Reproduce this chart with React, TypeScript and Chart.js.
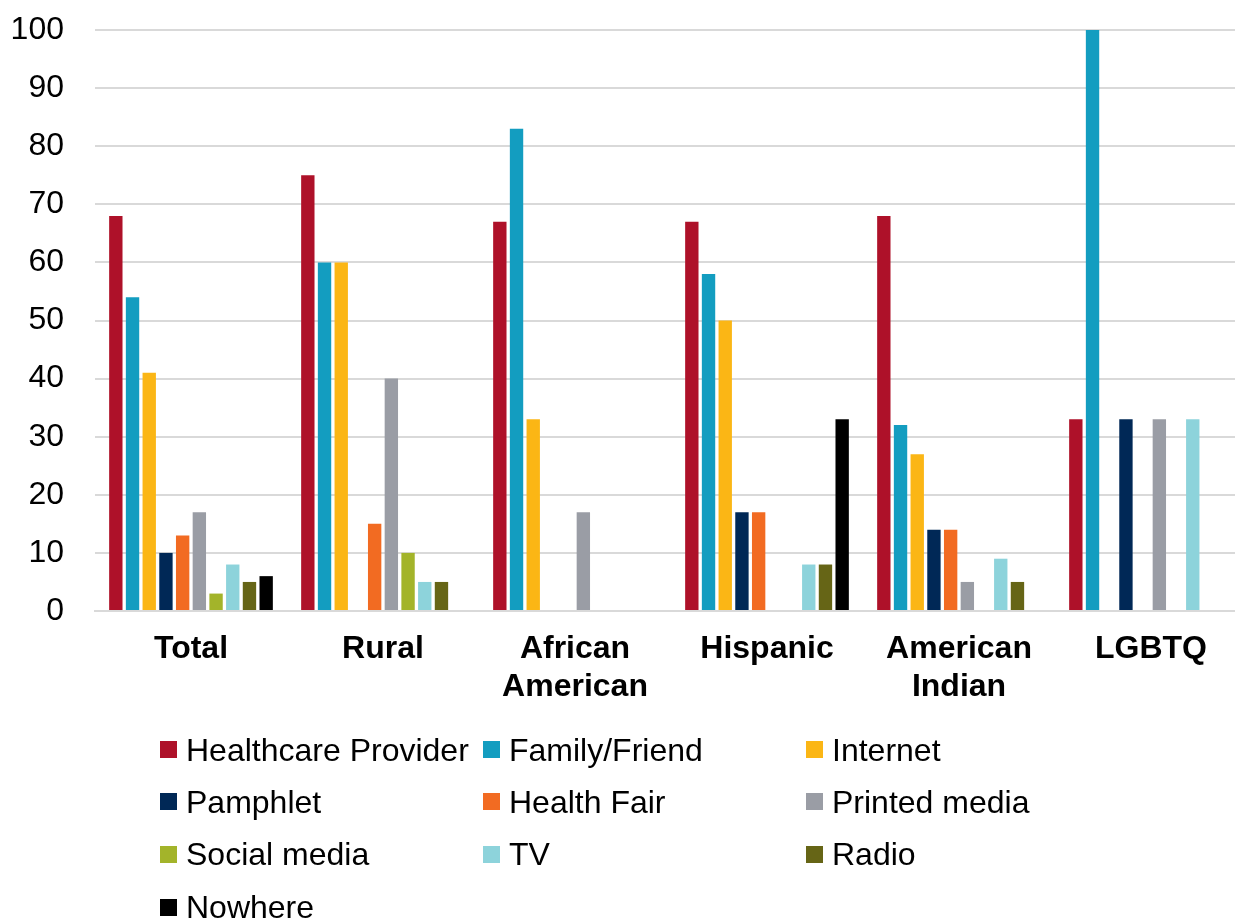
import React, { useEffect, useRef } from "react";
import { Chart, registerables } from "chart.js";

Chart.register(...registerables);

const categories: (string | string[])[] = [
  "Total",
  "Rural",
  ["African", "American"],
  "Hispanic",
  ["American", "Indian"],
  "LGBTQ",
];

const seriesNames = [
  "Healthcare Provider",
  "Family/Friend",
  "Internet",
  "Pamphlet",
  "Health Fair",
  "Printed media",
  "Social media",
  "TV",
  "Radio",
  "Nowhere",
];

const seriesColors = [
  "#AE1129",
  "#139DC0",
  "#FBB615",
  "#002856",
  "#F26B22",
  "#9A9DA5",
  "#A3B42A",
  "#8DD3DB",
  "#666516",
  "#000000",
];

const healthcareProvider = [68, 75, 67, 67, 68, 33];
const familyFriend = [54, 60, 83, 58, 32, 100];
const internet = [41, 60, 33, 50, 27, 0];
const pamphlet = [10, 0, 0, 17, 14, 33];
const healthFair = [13, 15, 0, 17, 14, 0];
const printedMedia = [17, 40, 17, 0, 5, 33];
const socialMedia = [3, 10, 0, 0, 0, 0];
const tv = [8, 5, 0, 8, 9, 33];
const radio = [5, 5, 0, 8, 5, 0];
const nowhere = [6, 0, 0, 33, 0, 0];

const seriesValues = [
  healthcareProvider,
  familyFriend,
  internet,
  pamphlet,
  healthFair,
  printedMedia,
  socialMedia,
  tv,
  radio,
  nowhere,
];

const yTicks = [0, 10, 20, 30, 40, 50, 60, 70, 80, 90, 100];

const FONT = "'Liberation Sans', Arial, Helvetica, sans-serif";

const legendCols = [160, 483, 806];
const legendRows = [749.5, 801.5, 854, 907];

export default function App() {
  const canvasRef = useRef<HTMLCanvasElement | null>(null);

  useEffect(() => {
    if (!canvasRef.current) return;
    const chart = new Chart(canvasRef.current, {
      type: "bar",
      data: {
        labels: categories,
        datasets: seriesNames.map((name, i) => ({
          label: name,
          data: seriesValues[i],
          backgroundColor: seriesColors[i],
          borderWidth: 0,
          categoryPercentage: 0.87,
          barPercentage: 0.8,
        })),
      },
      options: {
        responsive: false,
        animation: false,
        layout: { padding: { top: 30, left: 0, right: 0, bottom: 918 - 611 - 110 } },
        plugins: {
          legend: { display: false },
          tooltip: { enabled: false },
        },
        scales: {
          x: {
            grid: { display: false, drawTicks: false },
            border: { display: true, color: "#d9d9d9", width: 2 },
            ticks: {
              color: "#000",
              padding: 19,
              maxRotation: 0,
              autoSkip: false,
              font: { family: FONT, size: 32, weight: "bold", lineHeight: 1.2 },
            },
            afterFit: (scale: any) => {
              scale.height = 110;
            },
          },
          y: {
            min: 0,
            max: 100,
            afterBuildTicks: (scale: any) => {
              scale.ticks = yTicks.map((v) => ({ value: v }));
            },
            grid: { color: "#d9d9d9", lineWidth: 2, drawTicks: false },
            border: { display: false },
            ticks: {
              color: "#000",
              padding: 31,
              font: { family: FONT, size: 32 },
            },
            afterFit: (scale: any) => {
              scale.width = 95;
              scale.paddingTop = 0;
              scale.paddingBottom = 0;
            },
          },
        },
      },
    });
    return () => chart.destroy();
  }, []);

  return (
    <div
      style={{
        position: "absolute",
        left: 0,
        top: 0,
        width: 1235,
        height: 918,
        overflow: "hidden",
        background: "#fff",
      }}
    >
      <canvas
        ref={canvasRef}
        width={1247}
        height={918}
        style={{ position: "absolute", left: 0, top: 0, width: 1247, height: 918 }}
      />
      {seriesNames.map((name, i) => {
        const col = i % 3;
        const row = Math.floor(i / 3);
        return (
          <div
            key={name}
            style={{
              position: "absolute",
              left: legendCols[col],
              top: legendRows[row] - 20,
              height: 40,
              display: "flex",
              alignItems: "center",
              whiteSpace: "nowrap",
              fontFamily: FONT,
              fontSize: 32,
              lineHeight: "40px",
              color: "#000",
            }}
          >
            <span
              style={{
                display: "inline-block",
                width: 17,
                height: 17,
                background: seriesColors[i],
                marginRight: 9,
              }}
            />
            <span>{name}</span>
          </div>
        );
      })}
    </div>
  );
}
